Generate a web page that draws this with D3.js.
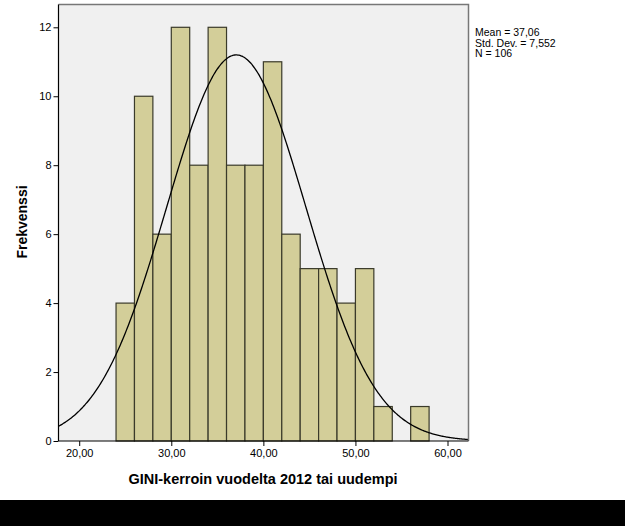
<!DOCTYPE html>
<html>
<head>
<meta charset="utf-8">
<script src="https://cdn.jsdelivr.net/npm/d3@7"></script>
<style>
  html, body { margin: 0; padding: 0; background: #fff; }
  svg { display: block; }
</style>
</head>
<body>
<svg id="chart" width="625" height="526"></svg>
<script>
// ---- data ----
const binStarts = [24, 26, 28, 30, 32, 34, 36, 38, 40, 42, 44, 46, 48, 50, 52, 54, 56];
const binWidth = 2;
const counts = [4, 10, 6, 12, 8, 12, 8, 8, 11, 6, 5, 5, 4, 5, 1, 0, 1];
const xTicks = [20, 30, 40, 50, 60];
const yTicks = [0, 2, 4, 6, 8, 10, 12];
const mean = 37.06;
const sd = 7.552;
const n = 106;
const statsLines = ["Mean = 37,06", "Std. Dev. = 7,552", "N = 106"];
const xTitle = "GINI-kerroin vuodelta 2012 tai uudempi";
const yTitle = "Frekvenssi";

// ---- layout ----
const svg = d3.select("#chart");
const L = 58.5, R = 468.5, T = 4.5, B = 441;
const x = d3.scaleLinear().domain([17.75, 62.28]).range([L, R]);
const y = d3.scaleLinear().domain([0, 12]).range([B, 27.3]);
const fmt = d => d.toFixed(2).replace(".", ",");

svg.append("rect").attr("x", 0).attr("y", 0).attr("width", 625).attr("height", 526).attr("fill", "#fff");
svg.append("rect").attr("x", 0).attr("y", 500).attr("width", 625).attr("height", 26).attr("fill", "#000");

// plot background
svg.append("rect").attr("x", L).attr("y", T).attr("width", R - L).attr("height", B - T).attr("fill", "#f0f0f0");

// bars
const bins = binStarts.map((s, i) => ({ x0: s, x1: s + binWidth, c: counts[i] })).filter(d => d.c > 0);
svg.append("g").selectAll("rect").data(bins).join("rect")
  .attr("x", d => x(d.x0))
  .attr("y", d => y(d.c))
  .attr("width", d => x(d.x1) - x(d.x0))
  .attr("height", d => B - y(d.c))
  .attr("fill", "#d3ce99")
  .attr("stroke", "#3a3a2a")
  .attr("stroke-width", 1.2);

// normal curve
const scaleFactor = n * binWidth / (sd * Math.sqrt(2 * Math.PI));
const curvePts = d3.range(0, 401).map(i => {
  const xv = 17.75 + (62.28 - 17.75) * i / 400;
  return [xv, scaleFactor * Math.exp(-0.5 * Math.pow((xv - mean) / sd, 2))];
});
svg.append("path")
  .datum(curvePts)
  .attr("fill", "none")
  .attr("stroke", "#000")
  .attr("stroke-width", 1.3)
  .attr("d", d3.line().x(d => x(d[0])).y(d => y(d[1])).curve(d3.curveBasis));

// frame top/right
svg.append("path")
  .attr("d", `M${L},${T}H${R}V${B}`)
  .attr("fill", "none").attr("stroke", "#777").attr("stroke-width", 1.5);

// axes
const xAxis = svg.append("g").attr("transform", `translate(0,${B})`)
  .call(d3.axisBottom(x).tickValues(xTicks).tickFormat(fmt).tickSizeOuter(0).tickSize(5).tickPadding(3));
const yAxis = svg.append("g").attr("transform", `translate(${L},0)`)
  .call(d3.axisLeft(y).tickValues(yTicks).tickSizeOuter(0).tickSize(5).tickPadding(2));
[xAxis, yAxis].forEach(g => {
  g.select(".domain").attr("stroke", "#000").attr("stroke-width", 1.2);
  g.selectAll(".tick line").attr("stroke", "#000");
  g.selectAll("text").attr("font-family", "Arial, 'Liberation Sans', sans-serif").attr("font-size", 11).attr("fill", "#000");
});
// extend x domain line to full width
xAxis.select(".domain").attr("d", `M${L},0H${R}`);
yAxis.select(".domain").attr("d", `M0,${T}V${B}`);

// titles
svg.append("text")
  .attr("x", (127 + 399) / 2).attr("y", 484)
  .attr("text-anchor", "middle")
  .attr("font-family", "Arial, 'Liberation Sans', sans-serif")
  .attr("font-weight", "bold").attr("font-size", 14.5)
  .text(xTitle);
svg.append("text")
  .attr("transform", "translate(27,222) rotate(-90)")
  .attr("text-anchor", "middle")
  .attr("font-family", "Arial, 'Liberation Sans', sans-serif")
  .attr("font-weight", "bold").attr("font-size", 14)
  .text(yTitle);

// stats
svg.append("g").selectAll("text").data(statsLines).join("text")
  .attr("x", 475).attr("y", (d, i) => 36 + i * 10.5)
  .attr("font-family", "Arial, 'Liberation Sans', sans-serif")
  .attr("font-size", 10.5)
  .text(d => d);
</script>
</body>
</html>
